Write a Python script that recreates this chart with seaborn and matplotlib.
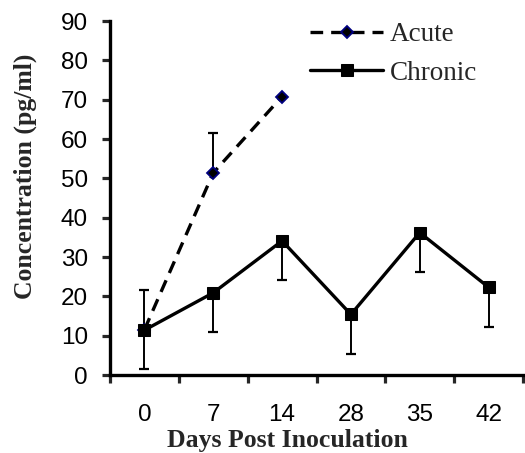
import numpy as np
import pandas as pd
import matplotlib
matplotlib.use("Agg")
import matplotlib.pyplot as plt
import seaborn as sns

# data
days = ["0", "7", "14", "28", "35", "42"]
acute_days = ["0", "7", "14"]
acute = [11.5, 51.4, 70.8]
acute_err_up = [10.2, 10.0, 0.0]
chronic = [11.4, 20.9, 34.1, 15.4, 36.2, 22.3]
chronic_err_down = [10.0, 9.9, 9.9, 10.1, 9.9, 10.2]

pos = {d: i for i, d in enumerate(days)}
df = pd.concat([
    pd.DataFrame({"pos": [pos[d] for d in acute_days], "conc": acute, "group": "Acute"}),
    pd.DataFrame({"pos": [pos[d] for d in days], "conc": chronic, "group": "Chronic"}),
], ignore_index=True)

sns.set_style("ticks")
serif = ["Liberation Serif", "DejaVu Serif"]
sans = ["Liberation Sans", "DejaVu Sans"]

fig = plt.figure(figsize=(5.25, 4.53), dpi=100)
ax = fig.add_axes([110 / 525, 78 / 453, 413 / 525, 354 / 453])

sns.lineplot(data=df, x="pos", y="conc", hue="group", style="group",
             palette={"Acute": "black", "Chronic": "black"},
             markers={"Acute": "D", "Chronic": "s"},
             dashes={"Acute": (3.8, 2.4), "Chronic": ""},
             linewidth=2.4, legend=False, ax=ax)

l_acute, l_chronic = ax.lines[0], ax.lines[1]
l_acute.set_markersize(6.5)
l_acute.set_markerfacecolor("black")
l_acute.set_markeredgecolor("#000080")
l_acute.set_markeredgewidth(1.3)
l_acute.set_zorder(2)
l_chronic.set_markersize(8.5)
l_chronic.set_markerfacecolor("black")
l_chronic.set_markeredgecolor("black")
l_chronic.set_zorder(3)

ax.errorbar([pos[d] for d in acute_days], acute,
            yerr=[np.zeros(len(acute)), acute_err_up],
            fmt="none", ecolor="black", elinewidth=1.4, capsize=3.3, capthick=1.6, zorder=1)
ax.errorbar([pos[d] for d in days], chronic,
            yerr=[chronic_err_down, np.zeros(len(chronic))],
            fmt="none", ecolor="black", elinewidth=1.4, capsize=3.3, capthick=1.6, zorder=1)

ax.set_xlim(-0.5, len(days) - 0.5)
ax.set_ylim(0, 90)
ax.set_yticks(range(0, 91, 10))
ax.set_xticks(range(len(days)), labels=days)
ax.set_xticks(np.arange(-0.5, len(days), 1.0), minor=True)
ax.tick_params(axis="x", which="major", length=0, pad=21)
ax.tick_params(axis="x", which="minor", length=6, width=2.3, direction="out")
ax.tick_params(axis="y", length=6, width=2.3, direction="out", pad=10)
for lab in ax.get_xticklabels() + ax.get_yticklabels():
    lab.set_family(sans)
    lab.set_fontsize(17.5)
    lab.set_color("black")

sns.despine(ax=ax)
for s in ["left", "bottom"]:
    ax.spines[s].set_linewidth(2.4)
    ax.spines[s].set_color("black")

ax.set_xlabel("Days Post Inoculation", family=serif, fontsize=18.5, fontweight="bold")
ax.set_ylabel("Concentration (pg/ml)", family=serif, fontsize=18.5, fontweight="bold")
ax.xaxis.set_label_coords(0.43, -0.152)
ax.yaxis.set_label_coords(-0.177, 0.56)

ax.legend([l_acute, l_chronic], ["Acute", "Chronic"], frameon=False,
          loc="upper left", bbox_to_anchor=(310 / 525, 1 - 22 / 453),
          bbox_transform=fig.transFigure, borderpad=0, borderaxespad=0,
          handlelength=2.7, handletextpad=0.25, labelspacing=0.5,
          prop={"family": serif, "size": 19.5})

fig.savefig("out.png", dpi=100)
